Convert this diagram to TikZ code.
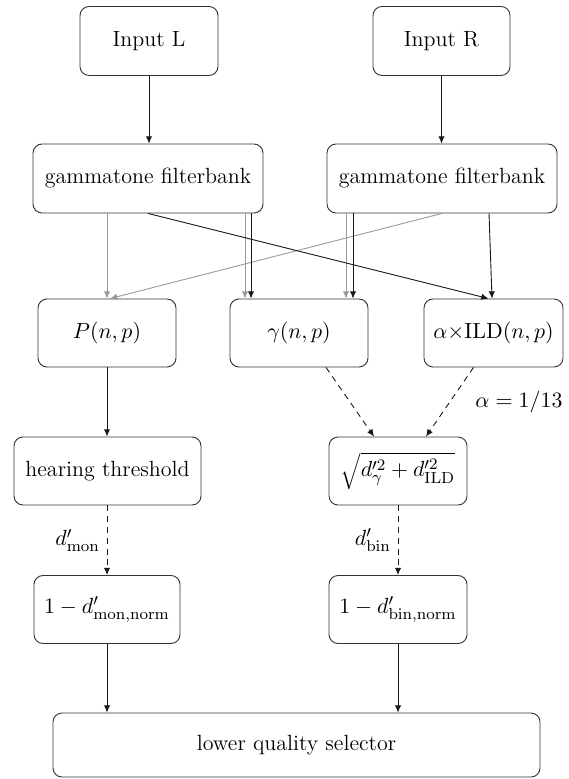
\documentclass[tikz,border=0pt]{standalone}
\usetikzlibrary{arrows.meta,calc}
\begin{document}
\begin{tikzpicture}[x=0.5pt,y=-0.5pt,
  font=\fontsize{11}{13.5}\selectfont,
  box/.style={draw=black!80, line width=0.45pt, rounded corners=4.5pt, minimum height=34pt, inner sep=0pt, align=center},
  arr/.style={draw=black!90, line width=0.45pt, -{Latex[length=3.6pt,width=3.2pt]}},
  garr/.style={draw=black!40, line width=0.45pt, -{Latex[length=3.6pt,width=3.2pt]}},
  darr/.style={arr, dash pattern=on 3pt off 2.4pt}]
\useasboundingbox (0,0) rectangle (568,779);

\node[box, minimum width=69pt, minimum height=34.5pt] (inL) at (149,41) {Input L};
\node[box, minimum width=68.5pt, minimum height=34.5pt] (inR) at (441.5,41) {Input R};
\node[box, minimum width=115pt, minimum height=34.5pt] (gL) at (148,178.5) {gammatone filterbank};
\node[box, minimum width=115pt, minimum height=34.5pt] (gR) at (442,178.5) {gammatone filterbank};
\node[box, minimum width=69pt] (P) at (107,333) {$P(n,p)$};
\node[box, minimum width=69pt] (gam) at (299,333) {$\gamma(n,p)$};
\node[box, minimum width=69.5pt] (ild) at (493.5,333) {$\alpha{\times}\mathrm{ILD}(n,p)$};
\node[box, minimum width=93.5pt] (ht) at (107.5,471) {hearing threshold};
\node[box, minimum width=69pt] (sq) at (398,471) {$\sqrt{d'^2_\gamma+d'^2_{\mathrm{ILD}}}$};
\node[box, minimum width=73pt] (mon) at (107,609.5) {$1-d'_{\mathrm{mon,norm}}$};
\node[box, minimum width=69pt] (bin) at (398,609.5) {$1-d'_{\mathrm{bin,norm}}$};
\node[box, minimum width=243.5pt, minimum height=32pt] (lqs) at (296.5,745) {lower quality selector};

% inputs
\draw[arr] (inL.south) -- (inL.south |- gL.north);
\draw[arr] (inR.south) -- (inR.south |- gR.north);

% filterbank -> features
\draw[garr] (P.north |- gL.south) -- (P.north);
\draw[garr] (gR.south) -- ($(P.north)+(3,0)$);
\draw[garr] ($(gL.south)+(97,0)$) -- ($(gam.north)+(-54,0)$);
\draw[arr]  ($(gL.south)+(103,0)$) -- ($(gam.north)+(-48,0)$);
\draw[garr] ($(gR.south)+(-96,0)$) -- ($(gam.north)+(47,0)$);
\draw[arr]  ($(gR.south)+(-89,0)$) -- ($(gam.north)+(54,0)$);
\draw[arr]  (gL.south) -- ($(ild.north)+(-5,0)$);
\draw[arr]  ($(gR.south)+(47,0)$) -- ($(ild.north)+(-1.5,0)$);

% features -> next
\draw[arr] (P.south) -- (P.south |- ht.north);
\draw[darr] ($(gam.south)+(27,0)$) -- ($(sq.north)+(-24,0)$);
\draw[darr] ($(ild.south)+(-20,0)$) -- ($(sq.north)+(28,0)$);
\node (alpha) at (519,402) {$\alpha=1/13$};

\draw[darr] (ht.south -| mon.north) -- node[left] {$d'_{\mathrm{mon}}$} (mon.north);
\draw[darr] (sq.south) -- node[left] {$d'_{\mathrm{bin}}$} (bin.north);

\draw[arr] (mon.south) -- (mon.south |- lqs.north);
\draw[arr] (bin.south) -- (bin.south |- lqs.north);
\end{tikzpicture}
\end{document}
